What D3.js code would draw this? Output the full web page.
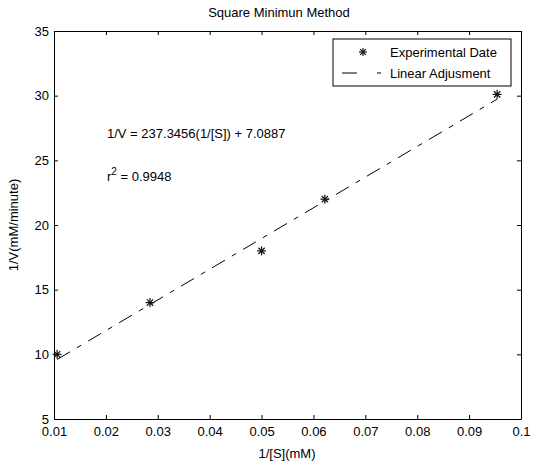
<!DOCTYPE html>
<html>
<head>
<meta charset="utf-8">
<script src="https://cdn.jsdelivr.net/npm/d3@7"></script>
<style>
  body { margin: 0; background: #fff; }
  svg { display: block; font-family: "Liberation Sans", Arial, sans-serif; }
</style>
</head>
<body>
<div id="app"></div>
<script>
// data
const invS = [0.0106, 0.0285, 0.05, 0.0622, 0.0954]
const invV = [10, 14, 18, 22, 30.1]
const slope = 237.3456
const intercept = 7.0887
const r2 = 0.9948
const xTicks = [0.01, 0.02, 0.03, 0.04, 0.05, 0.06, 0.07, 0.08, 0.09, 0.1]
const yTicks = [5, 10, 15, 20, 25, 30, 35]

const width = 538
const height = 462
const padL = 54, padR = 521, padT = 31, padB = 419
const fs = 13

const svg = d3.select('#app').append('svg')
  .attr('width', width)
  .attr('height', height)

const x = d3.scaleLinear().domain([0.01, 0.1]).range([padL, padR])
const y = d3.scaleLinear().domain([5, 35]).range([padB, padT])

// axes box with inward ticks on all sides
const fmtX = d => d === 0.1 ? '0.1' : d3.format('.2f')(d)
svg.append('g')
  .attr('transform', `translate(0, ${padB})`)
  .call(d3.axisBottom(x).tickValues(xTicks).tickSizeInner(-4).tickSizeOuter(0).tickPadding(8).tickFormat(fmtX))
svg.append('g')
  .attr('transform', `translate(0, ${padT})`)
  .call(d3.axisTop(x).tickValues(xTicks).tickSizeInner(-4).tickSizeOuter(0).tickFormat(''))
svg.append('g')
  .attr('transform', `translate(${padL}, 0)`)
  .call(d3.axisLeft(y).tickValues(yTicks).tickSizeInner(-4).tickSizeOuter(0).tickPadding(5))
svg.append('g')
  .attr('transform', `translate(${padR}, 0)`)
  .call(d3.axisRight(y).tickValues(yTicks).tickSizeInner(-4).tickSizeOuter(0).tickFormat(''))

svg.selectAll('.domain').attr('stroke', '#000')
svg.selectAll('.tick line').attr('stroke', '#000')
svg.selectAll('.tick text')
  .attr('font-size', fs)
  .attr('font-family', '"Liberation Sans", Arial, sans-serif')
  .attr('fill', '#000')

// fitted line
const x0 = d3.min(invS), x1 = d3.max(invS)
svg.append('line')
  .attr('x1', x(x0)).attr('y1', y(slope * x0 + intercept))
  .attr('x2', x(x1)).attr('y2', y(slope * x1 + intercept))
  .attr('stroke', '#000')
  .attr('stroke-width', 1)
  .attr('stroke-dasharray', '15,8,5,8')

// asterisk markers
const star = (g, s) => {
  g.append('line').attr('x1', -s).attr('x2', s).attr('y1', 0).attr('y2', 0)
  g.append('line').attr('x1', 0).attr('x2', 0).attr('y1', -s).attr('y2', s)
  g.append('line').attr('x1', -s * 0.7).attr('x2', s * 0.7).attr('y1', -s * 0.7).attr('y2', s * 0.7)
  g.append('line').attr('x1', -s * 0.7).attr('x2', s * 0.7).attr('y1', s * 0.7).attr('y2', -s * 0.7)
  g.selectAll('line').attr('stroke', '#111').attr('stroke-width', 1.2)
}
invS.forEach((d, i) => {
  const g = svg.append('g').attr('transform', `translate(${x(d)}, ${y(invV[i])})`)
  star(g, 4.5)
})

// annotations
svg.append('text')
  .attr('x', 107).attr('y', 138)
  .attr('font-size', fs)
  .text(`1/V = ${slope}(1/[S]) + ${intercept}`)
const rt = svg.append('text')
  .attr('x', 107).attr('y', 181)
  .attr('font-size', fs)
rt.append('tspan').text('r')
rt.append('tspan').attr('dy', -6).attr('font-size', 10).text('2')
rt.append('tspan').attr('dy', 6).text(` = ${r2}`)

// title and labels
svg.append('text')
  .attr('x', 279).attr('y', 17)
  .attr('text-anchor', 'middle')
  .attr('font-size', fs)
  .text('Square Minimun Method')
svg.append('text')
  .attr('x', 287).attr('y', 458)
  .attr('text-anchor', 'middle')
  .attr('font-size', fs)
  .text('1/[S](mM)')
svg.append('text')
  .attr('transform', 'translate(18, 225) rotate(-90)')
  .attr('text-anchor', 'middle')
  .attr('font-size', fs)
  .text('1/V(mM/minute)')

// legend
const lg = svg.append('g')
lg.append('rect')
  .attr('x', 333).attr('y', 39).attr('width', 178).attr('height', 47)
  .attr('fill', '#fff').attr('stroke', '#000')
star(lg.append('g').attr('transform', 'translate(363, 52)'), 4)
lg.append('text').attr('x', 390).attr('y', 57).attr('font-size', fs).text('Experimental Date')
lg.append('line')
  .attr('x1', 342).attr('x2', 381).attr('y1', 73).attr('y2', 73)
  .attr('stroke', '#000').attr('stroke-dasharray', '15,20,4,7')
lg.append('text').attr('x', 390).attr('y', 78).attr('font-size', fs).text('Linear Adjusment')
</script>
</body>
</html>
